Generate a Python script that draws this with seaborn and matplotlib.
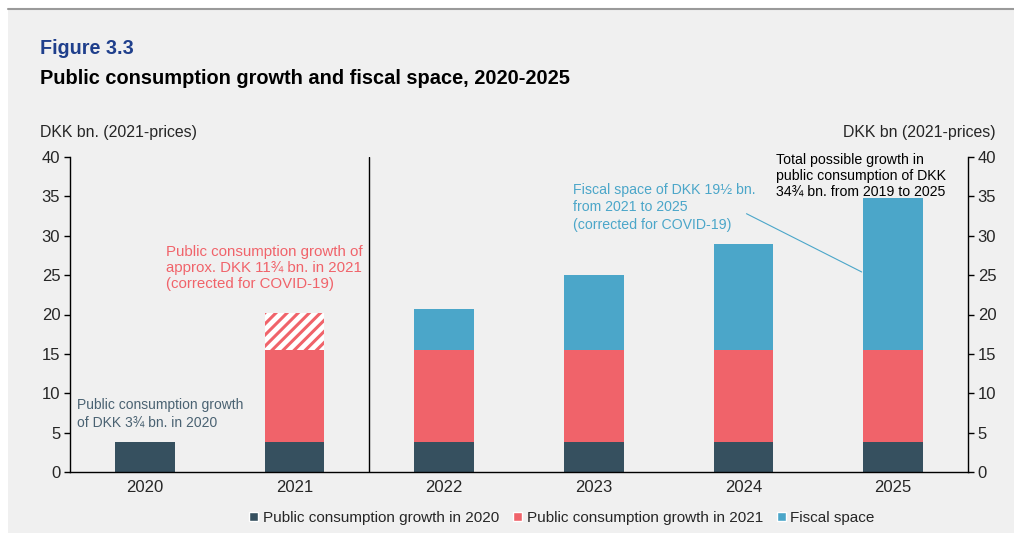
import matplotlib
matplotlib.use("Agg")
from matplotlib import pyplot as plt
from matplotlib.patches import Rectangle, Patch
import numpy as np
import pandas as pd
import seaborn as sns

# Data (DKK bn., 2021-prices)
years = ["2020", "2021", "2022", "2023", "2024", "2025"]
growth_2020 = [3.75, 3.75, 3.75, 3.75, 3.75, 3.75]
growth_2021 = [0.0, 11.75, 11.75, 11.75, 11.75, 11.75]
covid_2021 = [0.0, 4.75, 0.0, 0.0, 0.0, 0.0]
fiscal_space = [0.0, 0.0, 5.25, 9.5, 13.5, 19.25]
y_ticks = [0, 5, 10, 15, 20, 25, 30, 35, 40]

dark = "#36505f"
red = "#f0636a"
blue = "#4ba6c9"
bg = "#f0f0f0"

sns.set_style("white")
plt.rcParams["font.family"] = ["Liberation Sans", "DejaVu Sans"]
plt.rcParams["hatch.linewidth"] = 2.2

df = pd.DataFrame({"year": years, "g2020": growth_2020, "g2021": growth_2021,
                   "covid": covid_2021, "fiscal": fiscal_space})
df["b_2021"] = df["g2020"]
df["b_covid"] = df["g2020"] + df["g2021"]
df["b_fiscal"] = df["g2020"] + df["g2021"]

fig = plt.figure(figsize=(10.14, 5.33), dpi=100, facecolor=bg)

# White margin strips (left and above the top rule) and the rule itself
fig.patches.append(Rectangle((0, 0), 8 / 1014, 1, transform=fig.transFigure,
                             facecolor="white", edgecolor="none", zorder=-10))
fig.patches.append(Rectangle((0, 1 - 9 / 533), 1, 9 / 533, transform=fig.transFigure,
                             facecolor="white", edgecolor="none", zorder=-10))
fig.lines.append(plt.Line2D([8 / 1014, 1], [1 - 9 / 533] * 2, transform=fig.transFigure,
                            color="#9a9a9a", lw=1.5))

ax = fig.add_axes([70 / 1014, 1 - 472 / 533, (968 - 70) / 1014, (472 - 157) / 533])
ax.set_facecolor(bg)

width = 0.4
sns.barplot(data=df, x="year", y="g2020", color=dark, width=width, ax=ax,
            linewidth=0, saturation=1)
sns.barplot(data=df, x="year", y="g2021", bottom=df["b_2021"], color=red, width=width,
            ax=ax, linewidth=0, saturation=1)
sns.barplot(data=df, x="year", y="covid", bottom=df["b_covid"], color="white", width=width,
            ax=ax, linewidth=0, saturation=1, hatch="///", edgecolor=red)
sns.barplot(data=df, x="year", y="fiscal", bottom=df["b_fiscal"], color=blue, width=width,
            ax=ax, linewidth=0, saturation=1)

ax.set_xlim(-0.5, 5.5)
ax.set_ylim(0, 40)
ax.set_yticks(y_ticks)
ax.set_xlabel("")
ax.set_ylabel("")

# Category boundary ticks on x axis
ax.set_xticks(np.arange(-0.5, 6.0, 1.0), minor=False)
ax.set_xticklabels([])
ax.set_xticks(np.arange(0, 6), minor=True)
ax.set_xticklabels(years, minor=True, fontsize=12)
ax.tick_params(axis="x", which="minor", length=0, pad=6)
ax.tick_params(axis="x", which="major", length=4, width=1, direction="out", color="black")
ax.tick_params(axis="y", length=4, width=1, direction="out", labelsize=12, color="black", pad=3)

for side in ["top", "right"]:
    ax.spines[side].set_visible(False)
for side in ["left", "bottom"]:
    ax.spines[side].set_color("black")
    ax.spines[side].set_linewidth(1)

ax2 = ax.twinx()
ax2.set_ylim(0, 40)
ax2.set_yticks(y_ticks)
ax2.tick_params(axis="y", length=4, width=1, direction="out", labelsize=12, color="black", pad=3)
for side in ["top", "left", "bottom"]:
    ax2.spines[side].set_visible(False)
ax2.spines["right"].set_color("black")
ax2.spines["right"].set_linewidth(1)

# Divider between 2021 and 2022
ax.plot([1.5, 1.5], [0, 40], color="black", lw=1)

# Annotations
ax.text(-0.45, 7.4, "Public consumption growth\nof DKK 3\u00be bn. in 2020", color="#4a6272",
        fontsize=10, va="center", ha="left", linespacing=1.3)
ax.text(0.14, 25.9, "Public consumption growth of\napprox. DKK 11\u00be bn. in 2021\n(corrected for COVID-19)",
        color=red, fontsize=10.8, va="center", ha="left", linespacing=1.2)
ax.text(2.86, 33.6, "Fiscal space of DKK 19\u00bd bn.\nfrom 2021 to 2025\n(corrected for COVID-19)",
        color=blue, fontsize=10.2, va="center", ha="left", linespacing=1.3)
ax.text(4.22, 37.6, "Total possible growth in\npublic consumption of DKK\n34\u00be bn. from 2019 to 2025",
        color="black", fontsize=10.2, va="center", ha="left", linespacing=1.2)
ax.plot([4.02, 4.79], [32.8, 25.4], color=blue, lw=0.8)

# Axis unit labels
fig.text(40 / 1014, 1 - 132 / 533, "DKK bn. (2021-prices)", fontsize=11.4, va="center", ha="left")
fig.text(996 / 1014, 1 - 132 / 533, "DKK bn (2021-prices)", fontsize=11.4, va="center", ha="right")

# Titles
fig.text(40 / 1014, 1 - 48 / 533, "Figure 3.3", fontsize=14.2, fontweight="bold",
         color="#1f3f8c", va="center", ha="left")
fig.text(40 / 1014, 1 - 79 / 533, "Public consumption growth and fiscal space, 2020-2025",
         fontsize=14.4, fontweight="bold", color="black", va="center", ha="left")

# Legend
handles = [Patch(facecolor=dark, label="Public consumption growth in 2020"),
           Patch(facecolor=red, label="Public consumption growth in 2021"),
           Patch(facecolor=blue, label="Fiscal space")]
fig.legend(handles=handles, loc="center", bbox_to_anchor=(562 / 1014, 1 - 518 / 533), ncol=3,
           frameon=False, fontsize=11, handlelength=0.6, handleheight=0.6, handletextpad=0.3,
           columnspacing=0.9)

fig.savefig("out.png", dpi=100, facecolor=fig.get_facecolor())
